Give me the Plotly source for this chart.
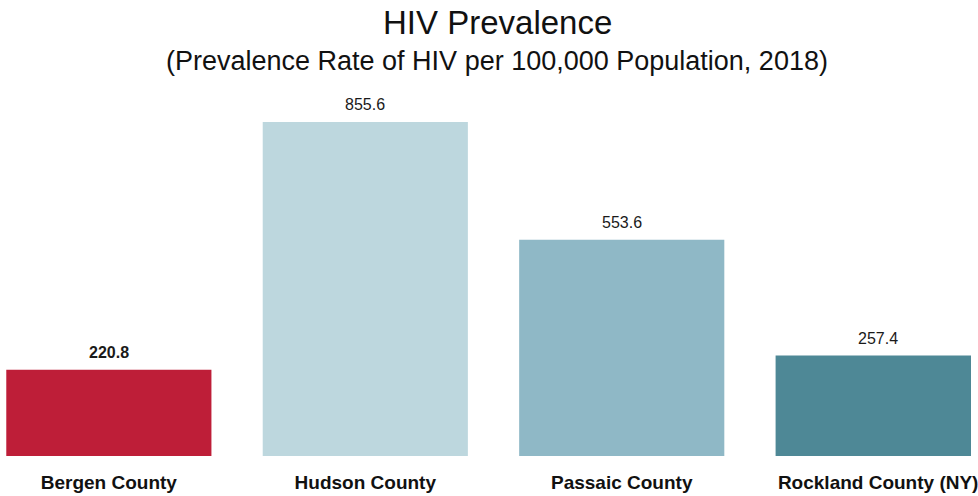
import plotly.graph_objects as go

# Datos
counties = ['Bergen County', 'Hudson County', 'Passaic County', 'Rockland County (NY)']
prevalence = [220.8, 855.6, 553.6, 257.4]
bar_colors = ['#BE1E38', '#BDD7DE', '#8FB8C6', '#4E8896']

title_text = 'HIV Prevalence'
subtitle_text = '(Prevalence Rate of HIV per 100,000 Population, 2018)'

font_family = 'Liberation Sans, Arial, sans-serif'

fig = go.Figure()
fig.add_trace(go.Bar(
    x=counties,
    y=prevalence,
    marker=dict(color=bar_colors, line=dict(width=0)),
    hoverinfo='x+y',
))

# etiquetas de valor sobre cada barra (Bergen en negrita)
value_labels = []
for i, (c, v) in enumerate(zip(counties, prevalence)):
    txt = f'<b>{v}</b>' if i == 0 else f'{v}'
    value_labels.append(dict(
        x=c, y=v, xref='x', yref='y', text=txt, showarrow=False,
        xanchor='center', yanchor='bottom', yshift=7,
        font=dict(family=font_family, size=16, color='#1a1a1a'),
    ))

fig.update_layout(
    width=978,
    height=496,
    margin=dict(l=0, r=0, t=105, b=40),
    plot_bgcolor='white',
    paper_bgcolor='white',
    bargap=0.2,
    showlegend=False,
    annotations=value_labels + [
        dict(text=title_text, x=0.512, y=1.236, xref='paper', yref='paper',
             xanchor='center', yanchor='middle', showarrow=False,
             font=dict(family=font_family, size=33, color='#111111')),
        dict(text=subtitle_text, x=0.512, y=1.124, xref='paper', yref='paper',
             xanchor='center', yanchor='middle', showarrow=False,
             font=dict(family=font_family, size=27, color='#111111')),
    ],
)

fig.update_xaxes(
    range=[-0.4245, 3.362],
    showgrid=False,
    showline=False,
    zeroline=False,
    ticks='',
    tickprefix='<b>',
    ticksuffix='</b>',
    ticklabelstandoff=13,
    tickfont=dict(family=font_family, size=19, color='#111111'),
)
fig.update_yaxes(
    range=[0, 899],
    visible=False,
    showgrid=False,
    zeroline=False,
)

fig.write_html('out.html', config={'displayModeBar': False},
               post_script="document.body.style.margin='0';")
